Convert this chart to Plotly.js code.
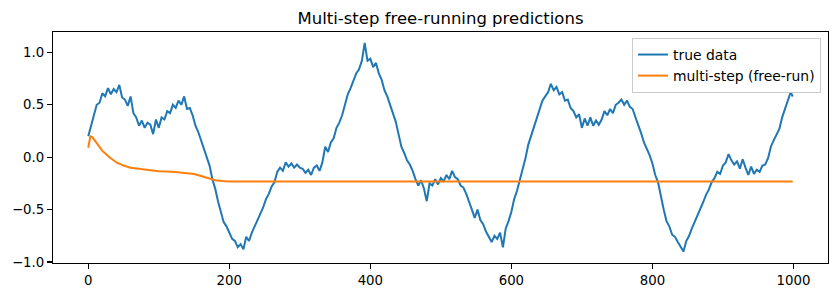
<!DOCTYPE html>
<html>
<head>
<meta charset="utf-8">
<script src="https://cdn.plot.ly/plotly-3.0.1.min.js"></script>
<style>html,body{margin:0;padding:0;background:#fff;}#chart{width:838px;height:297px;}</style>
</head>
<body>
<div id="chart"></div>
<script>
// true data sampled every 4 steps (t = 0,4,...,996) plus final step 999
const trueValues = [
  0.20,0.31,0.40,0.50,0.52,0.61,0.58,0.66,0.60,0.65,
  0.62,0.69,0.57,0.55,0.49,0.58,0.42,0.38,0.30,0.35,
  0.28,0.33,0.31,0.22,0.36,0.28,0.38,0.36,0.44,0.42,
  0.50,0.47,0.54,0.50,0.58,0.46,0.47,0.40,0.30,0.24,
  0.16,0.08,-0.02,-0.08,-0.21,-0.30,-0.42,-0.53,-0.62,-0.66,
  -0.72,-0.78,-0.80,-0.86,-0.83,-0.88,-0.76,-0.80,-0.72,-0.66,
  -0.60,-0.53,-0.48,-0.40,-0.35,-0.28,-0.24,-0.14,-0.10,-0.13,
  -0.05,-0.09,-0.06,-0.10,-0.07,-0.10,-0.11,-0.15,-0.12,-0.17,
  -0.10,-0.08,-0.13,-0.05,0.10,0.05,0.14,0.18,0.28,0.33,
  0.40,0.50,0.60,0.66,0.73,0.80,0.84,0.92,1.09,0.92,
  0.94,0.86,0.90,0.80,0.74,0.64,0.58,0.50,0.42,0.34,
  0.22,0.10,0.04,-0.03,-0.07,-0.13,-0.21,-0.27,-0.22,-0.30,
  -0.42,-0.25,-0.27,-0.21,-0.26,-0.20,-0.23,-0.17,-0.21,-0.13,
  -0.19,-0.21,-0.27,-0.29,-0.35,-0.42,-0.50,-0.58,-0.50,-0.60,
  -0.64,-0.71,-0.76,-0.81,-0.75,-0.78,-0.72,-0.86,-0.68,-0.61,
  -0.52,-0.40,-0.32,-0.22,-0.10,-0.01,0.12,0.20,0.29,0.36,
  0.45,0.54,0.58,0.62,0.70,0.64,0.67,0.60,0.62,0.54,
  0.55,0.47,0.44,0.38,0.41,0.28,0.37,0.30,0.38,0.30,
  0.35,0.31,0.36,0.44,0.40,0.46,0.42,0.50,0.52,0.55,
  0.50,0.54,0.48,0.46,0.38,0.31,0.23,0.14,0.08,0.02,
  -0.06,-0.17,-0.24,-0.38,-0.50,-0.61,-0.66,-0.74,-0.76,-0.81,
  -0.85,-0.90,-0.80,-0.75,-0.68,-0.62,-0.55,-0.50,-0.43,-0.36,
  -0.31,-0.24,-0.20,-0.14,-0.16,-0.08,-0.05,0.03,-0.03,-0.07,
  -0.04,-0.11,-0.02,-0.10,-0.17,-0.09,-0.16,-0.12,-0.14,-0.08,
  -0.07,-0.01,0.10,0.16,0.22,0.27,0.38,0.46,0.54,0.62,
  0.58
];
const trueSteps = trueValues.map((_, i) => (i < trueValues.length - 1 ? i * 4 : 999));

const freeRunSteps  = [0, 3, 6, 10, 15, 20, 25, 30, 40, 50, 60, 70, 80, 100, 120, 140, 150, 160, 170, 180, 190, 200, 999];
const freeRunValues = [0.09, 0.20, 0.19, 0.15, 0.10, 0.06, 0.03, 0.00, -0.05, -0.08, -0.10, -0.11, -0.12, -0.135, -0.14, -0.15, -0.16, -0.18, -0.20, -0.22, -0.228, -0.232, -0.232];

const xTicks = [0, 200, 400, 600, 800, 1000];
const yTicks = [-1.0, -0.5, 0.0, 0.5, 1.0];

const tickFont = {family: 'DejaVu Sans, sans-serif', size: 13.3, color: '#000'};
const legendFont = {family: 'DejaVu Sans, sans-serif', size: 13.9, color: '#000'};

const traces = [
  {x: trueSteps, y: trueValues, type: 'scatter', mode: 'lines', name: 'true data',
   line: {color: '#1f77b4', width: 2}},
  {x: freeRunSteps, y: freeRunValues, type: 'scatter', mode: 'lines', name: 'multi-step (free-run)',
   line: {color: '#ff7f0e', width: 2}}
];

const axisBase = {
  showline: true, linecolor: '#000', linewidth: 1.1, mirror: true,
  ticks: 'outside', ticklen: 5, tickwidth: 1.1, tickcolor: '#000',
  showgrid: false, zeroline: false, tickfont: tickFont
};

const layout = {
  width: 838, height: 297,
  margin: {l: 53, r: 10, t: 32, b: 34},
  paper_bgcolor: '#fff', plot_bgcolor: '#fff',
  font: tickFont,
  title: {text: 'Multi-step free-running predictions', font: {family: 'DejaVu Sans, sans-serif', size: 16.5, color: '#000'},
          x: 0.5, xanchor: 'center', xref: 'paper', y: 1 - 18 / 297, yref: 'container', yanchor: 'middle'},
  xaxis: Object.assign({}, axisBase, {range: [-50, 1049], tickvals: xTicks, ticktext: xTicks.map(String)}),
  yaxis: Object.assign({}, axisBase, {range: [-1.01, 1.195], tickvals: yTicks, tickformat: '.1f'}),
  showlegend: true,
  legend: {x: 0.991, y: 0.974, xanchor: 'right', yanchor: 'top',
           bgcolor: 'rgba(255,255,255,0.8)', bordercolor: '#cccccc', borderwidth: 1,
           font: legendFont, tracegroupgap: 0}
};

Plotly.newPlot('chart', traces, layout, {displayModeBar: false, staticPlot: true});
</script>
</body>
</html>
